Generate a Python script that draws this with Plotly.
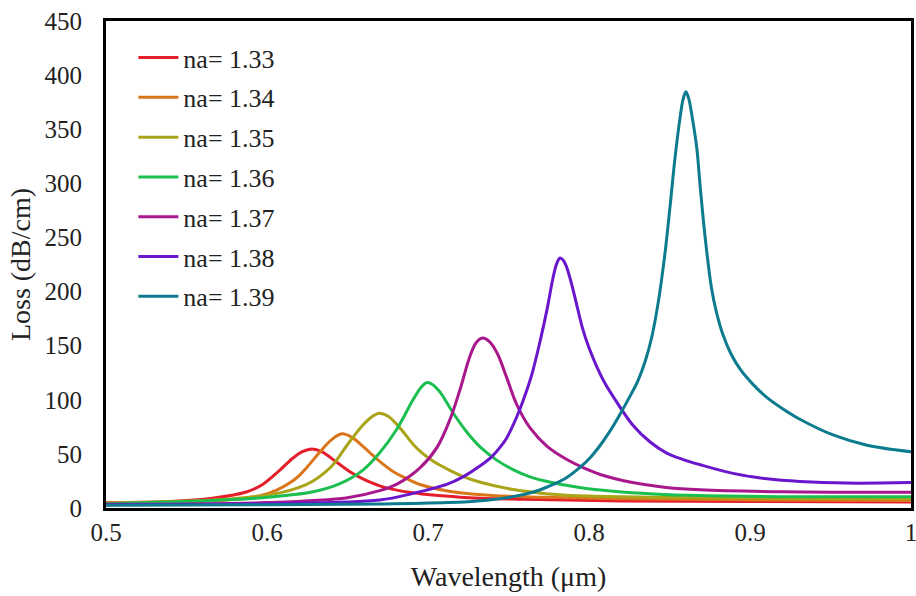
import plotly.graph_objects as go

labels = ["na= 1.33", "na= 1.34", "na= 1.35", "na= 1.36", "na= 1.37", "na= 1.38", "na= 1.39"]
colors = ["#e41e2b", "#d9761c", "#a9a418", "#1cbf4f", "#a8178c", "#6a16cc", "#0c7b8e"]

wl_133 = [0.50, 0.54, 0.566, 0.5876, 0.5975, 0.608, 0.616, 0.622, 0.628, 0.634, 0.6435, 0.651, 0.658, 0.670, 0.6907, 0.72, 0.76, 0.82, 0.90, 1.00]
loss_133 = [5.0, 6.0, 9.0, 15.0, 22.0, 35.0, 46.0, 52.0, 54.5, 52.0, 42.0, 34.0, 28.0, 20.5, 14.0, 10.0, 8.0, 6.5, 6.0, 5.5]

wl_134 = [0.50, 0.55, 0.58, 0.5975, 0.606, 0.614, 0.620, 0.625, 0.633, 0.640, 0.6466, 0.653, 0.658, 0.664, 0.670, 0.678, 0.687, 0.6956, 0.7056, 0.72, 0.74, 0.77, 0.82, 0.90, 1.00]
loss_134 = [4.8, 5.5, 8.0, 12.0, 16.5, 23.0, 30.0, 38.0, 52.0, 63.0, 68.5, 65.0, 59.0, 51.0, 43.0, 34.0, 27.0, 21.5, 17.5, 14.0, 11.5, 10.0, 8.5, 7.5, 7.0]

wl_135 = [0.50, 0.577, 0.608, 0.620, 0.6286, 0.636, 0.641, 0.6497, 0.658, 0.664, 0.6696, 0.675, 0.6826, 0.6907, 0.697, 0.704, 0.712, 0.722, 0.732, 0.753, 0.775, 0.80, 0.85, 0.92, 1.00]
loss_135 = [4.5, 8.3, 14.0, 19.0, 25.0, 33.0, 40.0, 58.0, 74.0, 83.0, 87.5, 85.0, 74.0, 59.0, 50.0, 42.5, 36.0, 29.0, 24.0, 17.0, 13.0, 11.0, 9.8, 9.0, 8.6]

wl_136 = [0.50, 0.566, 0.5975, 0.6286, 0.6453, 0.6596, 0.670, 0.6807, 0.6907, 0.696, 0.6994, 0.703, 0.7075, 0.7155, 0.7242, 0.732, 0.7429, 0.7528, 0.763, 0.774, 0.794, 0.815, 0.84, 0.869, 0.93, 1.00]
loss_136 = [4.0, 7.0, 9.5, 15.0, 22.5, 35.0, 51.0, 73.0, 100.0, 112.0, 116.0, 114.0, 107.0, 88.0, 70.0, 57.0, 44.0, 35.5, 29.0, 24.5, 19.0, 15.5, 13.0, 11.5, 10.5, 10.5]

wl_137 = [0.50, 0.60, 0.65, 0.670, 0.6807, 0.695, 0.7056, 0.7137, 0.720, 0.726, 0.730, 0.734, 0.738, 0.743, 0.749, 0.755, 0.7634, 0.774, 0.786, 0.796, 0.807, 0.827, 0.848, 0.869, 0.92, 1.00]
loss_137 = [3.5, 5.0, 9.5, 16.0, 22.0, 37.0, 56.0, 82.0, 110.0, 140.0, 153.0, 157.0, 154.0, 143.0, 120.0, 96.0, 74.0, 57.0, 45.0, 37.5, 31.0, 23.5, 19.0, 16.8, 15.0, 14.5]

wl_138 = [0.50, 0.60, 0.670, 0.6907, 0.712, 0.722, 0.732, 0.740, 0.7447, 0.749, 0.753, 0.757, 0.7607, 0.7646, 0.7696, 0.774, 0.7777, 0.780, 0.782, 0.784, 0.786, 0.789, 0.7925, 0.796, 0.800, 0.805, 0.810, 0.815, 0.827, 0.838, 0.848, 0.858, 0.869, 0.8895, 0.9106, 0.931, 0.96, 1.00]
loss_138 = [3.0, 4.0, 7.4, 13.5, 22.0, 29.0, 38.5, 48.0, 56.0, 65.0, 77.0, 91.0, 106.0, 124.0, 154.0, 184.0, 213.0, 226.0, 231.0, 229.0, 223.0, 208.0, 187.0, 166.0, 148.0, 130.0, 115.0, 103.0, 77.0, 61.0, 51.0, 45.0, 40.0, 32.0, 27.0, 24.5, 23.0, 23.5]

wl_139 = [0.50, 0.60, 0.670, 0.712, 0.735, 0.7528, 0.765, 0.774, 0.785, 0.794, 0.801, 0.807, 0.813, 0.819, 0.825, 0.8305, 0.835, 0.839, 0.843, 0.847, 0.8503, 0.8534, 0.8565, 0.8585, 0.8602, 0.862, 0.864, 0.867, 0.869, 0.872, 0.876, 0.879, 0.883, 0.888, 0.894, 0.902, 0.9106, 0.92, 0.931, 0.9516, 0.9727, 1.00]
loss_139 = [2.5, 3.0, 3.7, 5.0, 7.0, 10.5, 14.5, 19.4, 27.0, 37.0, 47.0, 58.0, 71.0, 86.0, 102.0, 118.0, 136.0, 158.0, 190.0, 233.0, 278.0, 323.0, 360.0, 378.0, 384.7, 378.0, 362.0, 332.0, 298.0, 252.0, 204.0, 182.0, 161.0, 143.0, 128.0, 114.0, 102.0, 92.0, 82.0, 67.5, 58.0, 52.0]

wls = [wl_133, wl_134, wl_135, wl_136, wl_137, wl_138, wl_139]
losses = [loss_133, loss_134, loss_135, loss_136, loss_137, loss_138, loss_139]

x_ticks = [0.5, 0.6, 0.7, 0.8, 0.9, 1.0]
x_tick_text = ["0.5", "0.6", "0.7", "0.8", "0.9", "1"]
y_ticks = [0, 50, 100, 150, 200, 250, 300, 350, 400, 450]

FONT = "Liberation Serif, Times New Roman, serif"

fig = go.Figure()
for i in range(len(labels)):
    fig.add_trace(go.Scatter(
        x=wls[i], y=losses[i], name=labels[i], mode="lines",
        line=dict(color=colors[i], width=3, shape="spline", smoothing=1.0),
        legendgroup=labels[i],
    ))

fig.update_layout(
    width=916, height=596,
    margin=dict(l=106, r=5, t=21, b=88),
    paper_bgcolor="white", plot_bgcolor="white",
    font=dict(family=FONT, size=25, color="#222"),
    showlegend=True,
    legend=dict(x=0.034, y=0.973, xanchor="left", yanchor="top",
                bgcolor="rgba(0,0,0,0)", font=dict(family=FONT, size=26, color="#222"),
                tracegroupgap=3, itemwidth=40),
    xaxis=dict(range=[0.5, 1.0], tickvals=x_ticks, ticktext=x_tick_text,
               showgrid=False, zeroline=False, showline=True, linecolor="black",
               linewidth=3, mirror=True, ticks="", ticklabelstandoff=0, automargin=False,
               ticklabeloverflow="allow",
               tickfont=dict(family=FONT, size=25),
               title=dict(text="Wavelength (μm)", font=dict(family=FONT, size=28), standoff=22)),
    yaxis=dict(range=[0, 450], tickvals=y_ticks,
               showgrid=False, zeroline=False, showline=True, linecolor="black",
               linewidth=3, mirror=True, ticks="", ticklabelstandoff=16, automargin=False,
               ticklabeloverflow="allow",
               tickfont=dict(family=FONT, size=25),
               title=dict(text="Loss (dB/cm)", font=dict(family=FONT, size=28), standoff=6)),
)

fig.write_html("out.html", config={"displayModeBar": False},
               post_script="document.body.style.margin='0px';")
